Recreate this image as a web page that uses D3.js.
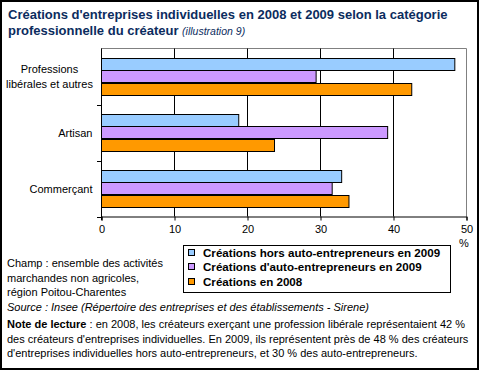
<!DOCTYPE html>
<html>
<head>
  <meta charset="utf-8">
  <script src="https://d3js.org/d3.v7.min.js"></script>
  <style>
    body { margin: 0; background: #fff; }
    svg text { font-family: Arial, "Liberation Sans", sans-serif; }
  </style>
</head>
<body>
<script>
  // données (en %)
  var categories = ["Professions libérales et autres", "Artisan", "Commerçant"];
  var series = ["Créations hors auto-entrepreneurs en 2009",
                "Créations d'auto-entrepreneurs en 2009",
                "Créations en 2008"];
  var horsAuto2009 = [48.4, 18.8, 32.9];
  var auto2009 = [29.4, 39.2, 31.6];
  var creations2008 = [42.5, 23.7, 33.9];
  var xTicks = [0, 10, 20, 30, 40, 50];
  var colors = ["#99CCFF", "#CC99FF", "#FF9900"];

  var values = [horsAuto2009, auto2009, creations2008];

  var width = 480, height = 371;
  var svg = d3.select("body").append("svg")
    .attr("width", width)
    .attr("height", height);

  // cadre
  svg.append("rect")
    .attr("x", 1).attr("y", 1)
    .attr("width", 477).attr("height", 368)
    .attr("fill", "#fff")
    .attr("stroke", "#000")
    .attr("stroke-width", 2);

  // titre
  svg.append("text")
    .attr("x", 8).attr("y", 19)
    .attr("fill", "#0B2C5E")
    .style("font-weight", "bold")
    .style("font-size", "13px")
    .text("Créations d'entreprises individuelles en 2008 et 2009 selon la catégorie");
  var title2 = svg.append("text")
    .attr("x", 8).attr("y", 35)
    .attr("fill", "#0B2C5E")
    .style("font-size", "13px");
  title2.append("tspan").style("font-weight", "bold").text("professionnelle du créateur ");
  title2.append("tspan").style("font-style", "italic").style("font-size", "10.5px").text("(illustration 9)");

  // échelles
  var x = d3.scaleLinear().domain([0, 50]).range([101, 466]);
  var y = d3.scaleBand().domain(categories).range([48.5, 216.5])
    .paddingInner(0.357).paddingOuter(0.1785);
  var ySub = d3.scaleBand().domain(d3.range(series.length)).range([0, y.bandwidth()]);

  var plot = svg.append("g");

  // bord du cadre de tracé (gris)
  plot.append("path")
    .attr("d", "M" + x(0) + ",48.5H" + (Math.round(x(50)) + 0.5) + "V216.5")
    .attr("fill", "none")
    .attr("stroke", "#808080");

  // lignes de quadrillage
  plot.selectAll("line.grid")
    .data(xTicks.slice(1, -1))
    .join("line")
    .attr("class", "grid")
    .attr("x1", function(d) { return Math.round(x(d)) + 0.5; })
    .attr("x2", function(d) { return Math.round(x(d)) + 0.5; })
    .attr("y1", 48.5).attr("y2", 216.5)
    .attr("stroke", "#000");

  // barres
  categories.forEach(function(c, i) {
    plot.selectAll(null)
      .data(values.map(function(v, s) { return {s: s, v: v[i]}; }))
      .join("rect")
      .attr("x", x(0) + 0.5)
      .attr("y", function(d) { return Math.round(y(c) + ySub(d.s)) + 0.5; })
      .attr("width", function(d) { return x(d.v) - x(0); })
      .attr("height", Math.round(ySub.bandwidth()))
      .attr("fill", function(d) { return colors[d.s]; })
      .attr("stroke", "#000");
  });

  // axe x
  var xAxis = d3.axisBottom(x).tickValues(xTicks).tickSize(4).tickPadding(5);
  var gx = svg.append("g")
    .attr("transform", "translate(0.5,216.5)")
    .call(xAxis);
  gx.select(".domain").attr("stroke", "#000");
  gx.selectAll(".tick line").attr("stroke", "#000");
  gx.selectAll(".tick text")
    .style("font-size", "11px")
    .attr("fill", "#000");
  svg.append("text")
    .attr("x", 459).attr("y", 246.5)
    .style("font-size", "11px")
    .text("%");

  // axe y : graduations entre catégories
  var yBounds = [48.5].concat(categories.map(function(c) { return y(c) + y.bandwidth() + y.step() * y.paddingInner() / 2; }));
  svg.append("line")
    .attr("x1", 101.5).attr("x2", 101.5)
    .attr("y1", 48.5).attr("y2", 220)
    .attr("stroke", "#000");
  svg.selectAll("line.ytick")
    .data(yBounds.slice(1))
    .join("line")
    .attr("class", "ytick")
    .attr("x1", 97).attr("x2", 101.5)
    .attr("y1", function(d) { return Math.round(d) + 0.5; })
    .attr("y2", function(d) { return Math.round(d) + 0.5; })
    .attr("stroke", "#000");

  // libellés de catégories
  var catLines = [["Professions", "libérales et autres"], ["Artisan"], ["Commerçant"]];
  categories.forEach(function(c, i) {
    var cy = y(c) + y.bandwidth() / 2;
    var lines = catLines[i];
    var t = svg.append("text")
      .style("font-size", "11px")
      .attr("text-anchor", lines.length > 1 ? "middle" : "end");
    lines.forEach(function(l, k) {
      t.append("tspan")
        .attr("x", lines.length > 1 ? 49.5 : 92.5)
        .attr("y", cy + 4 + (k - (lines.length - 1) / 2) * 14.5)
        .text(l);
    });
  });

  // légende
  var leg = svg.append("g");
  leg.append("rect")
    .attr("x", 183.5).attr("y", 245.5)
    .attr("width", 267).attr("height", 47)
    .attr("fill", "#fff")
    .attr("stroke", "#000");
  series.forEach(function(s, i) {
    var ly = 252 + i * 14.5;
    leg.append("rect")
      .attr("x", 188.5).attr("y", Math.round(ly - 3.5) + 0.5)
      .attr("width", 6).attr("height", 6)
      .attr("fill", colors[i])
      .attr("stroke", "#000");
    leg.append("text")
      .attr("x", 203).attr("y", ly + 4.5)
      .style("font-size", "11.6px")
      .style("font-weight", "bold")
      .text(s);
  });

  // notes
  var notes = svg.append("g").style("font-size", "11px");
  ["Champ : ensemble des activités", "marchandes non agricoles,", "région Poitou-Charentes"]
    .forEach(function(l, i) {
      notes.append("text").attr("x", 7).attr("y", 267 + i * 14.5).text(l);
    });
  notes.append("text").attr("x", 7).attr("y", 310.5)
    .style("font-style", "italic")
    .text("Source : Insee (Répertoire des entreprises et des établissements - Sirene)");
  var n1 = notes.append("text").attr("x", 7).attr("y", 328);
  n1.append("tspan").style("font-weight", "bold").text("Note de lecture");
  n1.append("tspan").text(" : en 2008, les créateurs exerçant une profession libérale représentaient 42 %");
  notes.append("text").attr("x", 7).attr("y", 342.5)
    .text("des créateurs d'entreprises individuelles. En 2009, ils représentent près de 48 % des créateurs");
  notes.append("text").attr("x", 7).attr("y", 357)
    .text("d'entreprises individuelles hors auto-entrepreneurs, et 30 % des auto-entrepreneurs.");
</script>
</body>
</html>
